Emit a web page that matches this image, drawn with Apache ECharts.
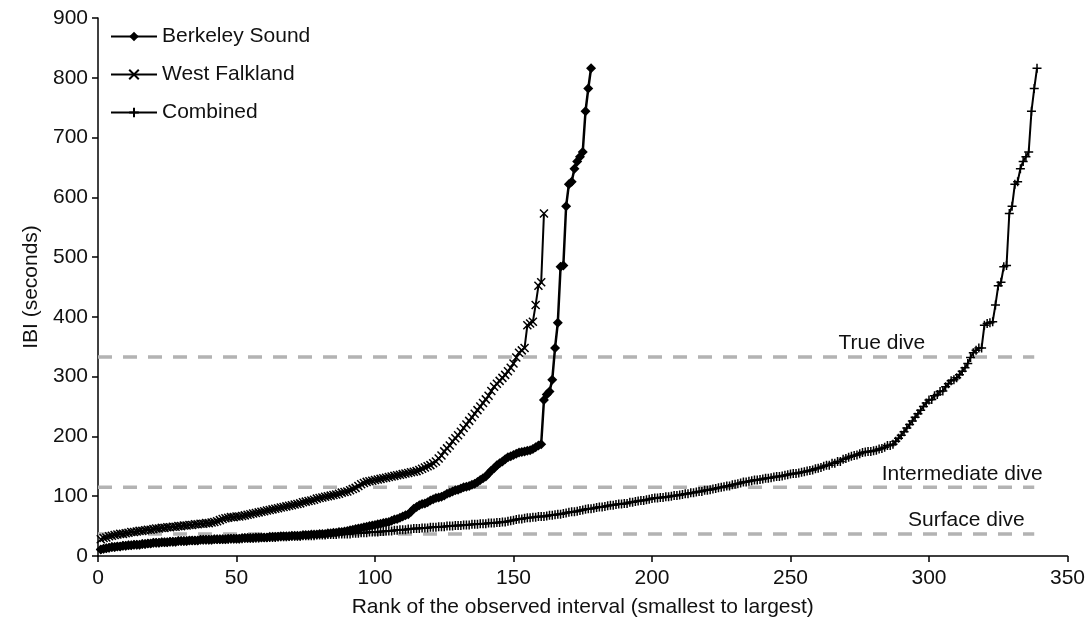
<!DOCTYPE html>
<html>
<head>
<meta charset="utf-8">
<script src="https://cdn.jsdelivr.net/npm/echarts@6/dist/echarts.min.js"></script>
<style>
  html, body { margin: 0; padding: 0; background: #fff; }
  #chart { width: 1088px; height: 625px; }
</style>
</head>
<body>
<div id="chart"></div>
<script>
// Inter-breath intervals (seconds), sorted smallest to largest, per site
const berkeleySound = [
  11,12,13,14,15,15,16,16,17,17,
  18,18,19,19,19,20,20,21,21,22,
  22,22,23,23,23,24,24,24,25,25,
  25,25,26,26,26,26,27,27,27,27,
  27,28,28,28,28,28,29,29,29,29,
  29,30,30,30,30,30,31,31,31,31,
  31,32,32,32,32,33,33,33,33,34,
  34,34,34,35,35,35,36,36,36,37,
  37,37,38,38,39,39,40,40,41,42,
  43,44,45,46,47,48,49,50,51,52,
  53,54,55,56,57,59,61,62,64,66,
  68,70,74,79,82,85,87,88,90,93,
  95,97,98,99,101,104,106,108,110,111,
  113,115,116,117,119,121,124,127,130,133,
  138,143,147,152,155,158,162,165,167,169,
  171,173,174,175,176,177,179,182,185,187,
  261,270,275,295,348,390,484,486,585,622,626,648,660,668,676,744,782,816
];

const westFalkland = [
  28,30,31,33,34,35,36,37,37,38,
  39,40,40,41,42,42,43,44,44,45,
  46,46,47,47,48,48,49,49,50,50,
  51,51,52,52,53,53,54,54,55,55,
  56,57,58,60,62,63,64,65,65,66,
  66,67,68,69,70,71,72,73,74,75,
  76,77,78,79,80,81,82,83,84,85,
  86,87,88,90,91,92,93,94,96,97,
  98,99,100,101,102,103,104,106,107,108,
  110,112,114,117,120,122,124,125,126,127,
  128,129,130,131,132,133,134,135,136,137,
  138,139,140,141,142,144,146,148,150,152,
  155,158,163,168,175,180,185,192,197,202,
  208,214,220,226,232,238,244,250,256,262,
  268,276,283,288,293,298,303,309,315,322,
  332,340,344,348,386,389,392,420,452,458,573
];

// Both sites pooled and re-ranked
const combined = berkeleySound.concat(westFalkland).sort((a, b) => a - b);

// Dive-type thresholds (seconds)
const thresholdNames = ['True dive', 'Intermediate dive', 'Surface dive'];
const thresholdValues = [333, 115, 37];
const thresholdEnd = 338;

const xTicks = { min: 0, max: 350, interval: 50 };
const yTicks = { min: 0, max: 900, interval: 100 };

const FONT = '"Liberation Sans", Arial, sans-serif';
const FS = 21;
const ranked = arr => arr.map((v, i) => [i + 1, v]);

const labelAt = { 'True dive': 283, 'Intermediate dive': 312, 'Surface dive': 313.5 };

const thresholdSeries = thresholdNames.map((name, k) => ({
  name: name,
  type: 'line',
  data: [[0, thresholdValues[k]], [thresholdEnd, thresholdValues[k]]],
  symbol: 'none',
  silent: true,
  z: 1,
  lineStyle: { color: '#b3b3b3', width: 3.5, type: [14, 11] },
  markPoint: {
    symbol: 'circle',
    symbolSize: 0,
    silent: true,
    label: {
      show: true, position: 'top', distance: 3,
      color: '#111', fontSize: FS, fontFamily: FONT,
      formatter: name
    },
    data: [{ coord: [labelAt[name], thresholdValues[k]] }]
  }
}));

const chart = echarts.init(document.getElementById('chart'), null, { renderer: 'canvas' });
chart.setOption({
  backgroundColor: '#fff',
  animation: false,
  grid: { left: 98, right: 20, top: 18, bottom: 69, containLabel: false },
  legend: {
    data: ['Berkeley Sound', 'West Falkland', 'Combined'],
    orient: 'vertical',
    left: 105, top: 21,
    itemWidth: 46, itemHeight: 12, itemGap: 17,
    textStyle: { fontSize: FS, color: '#111', fontFamily: FONT }
  },
  xAxis: {
    type: 'value', min: xTicks.min, max: xTicks.max, interval: xTicks.interval,
    name: 'Rank of the observed interval (smallest to largest)',
    nameLocation: 'middle', nameGap: 41,
    nameTextStyle: { fontSize: FS, color: '#111', fontFamily: FONT },
    axisLine: { lineStyle: { color: '#000', width: 1.5 } },
    axisTick: { show: true, length: 6, lineStyle: { color: '#000', width: 1.5 } },
    axisLabel: { fontSize: FS, color: '#111', fontFamily: FONT, margin: 12 },
    splitLine: { show: false }
  },
  yAxis: {
    type: 'value', min: yTicks.min, max: yTicks.max, interval: yTicks.interval,
    name: 'IBI (seconds)',
    nameLocation: 'middle', nameGap: 44, nameRotate: 90,
    nameTextStyle: { fontSize: FS, color: '#111', fontFamily: FONT },
    axisLine: { show: true, lineStyle: { color: '#000', width: 1.5 } },
    axisTick: { show: true, length: 6, lineStyle: { color: '#000', width: 1.5 } },
    axisLabel: { fontSize: FS, color: '#111', fontFamily: FONT, margin: 10 },
    splitLine: { show: false }
  },
  series: thresholdSeries.concat([
    {
      name: 'Combined',
      type: 'line',
      data: ranked(combined),
      symbol: 'path://M5,0L5,10M0,5L10,5',
      symbolSize: 9,
      z: 3,
      lineStyle: { color: '#000', width: 2 },
      itemStyle: { color: '#000', borderColor: '#000', borderWidth: 1.5 }
    },
    {
      name: 'West Falkland',
      type: 'line',
      data: ranked(westFalkland),
      symbol: 'path://M0,0L10,10M10,0L0,10',
      symbolSize: 8,
      z: 4,
      lineStyle: { color: '#000', width: 2 },
      itemStyle: { color: '#000', borderColor: '#000', borderWidth: 1.5 }
    },
    {
      name: 'Berkeley Sound',
      type: 'line',
      data: ranked(berkeleySound),
      symbol: 'diamond',
      symbolSize: 10,
      z: 5,
      lineStyle: { color: '#000', width: 2.5 },
      itemStyle: { color: '#000' }
    }
  ])
});
</script>
</body>
</html>
